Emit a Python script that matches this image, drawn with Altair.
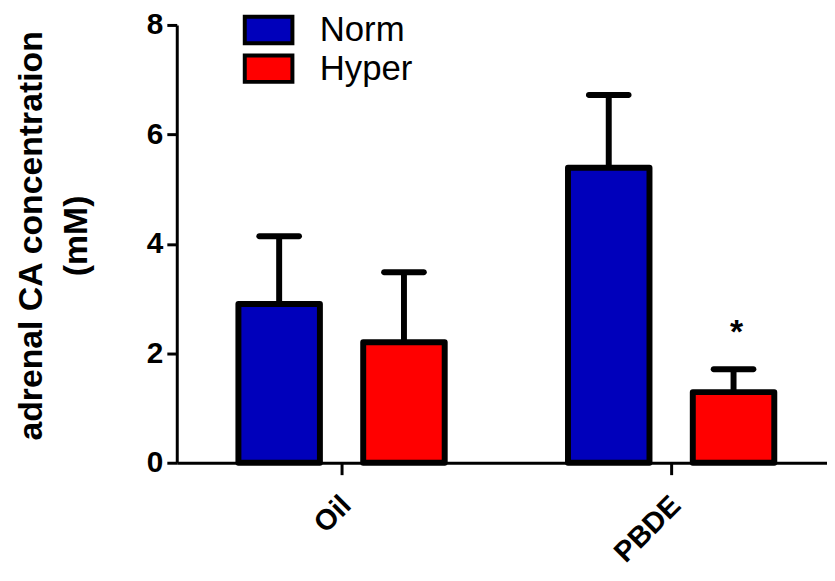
import altair as alt
import pandas as pd

groups = ["Oil", "Oil", "PBDE", "PBDE"]
conditions = ["Norm", "Hyper", "Norm", "Hyper"]
means = [2.90, 2.20, 5.39, 1.29]
upper = [4.14, 3.48, 6.72, 1.71]
sig = ["", "", "", "*"]

df = pd.DataFrame({"group": groups, "cond": conditions, "mean": means,
                   "upper": upper, "sig": sig})

FONT = "Liberation Sans"
cond_order = ["Norm", "Hyper"]

x_enc = alt.X("group:N", sort=["Oil", "PBDE"],
              scale=alt.Scale(paddingInner=0, paddingOuter=0, rangeMax=664),
              axis=alt.Axis(title=None, labelAngle=315))
xo_enc = alt.XOffset("cond:N", sort=cond_order,
                     scale=alt.Scale(domain=cond_order, paddingInner=0.347,
                                     paddingOuter=0.494))
y_axis = alt.Axis(values=[0, 2, 4, 6, 8], title=["adrenal CA concentration", "(mM)"])
y_scale = alt.Scale(domain=[0, 8], nice=False)

base = alt.Chart(df).encode(x=x_enc, xOffset=xo_enc)

bars = base.mark_bar(stroke="black", strokeWidth=6, strokeJoin="round").encode(
    y=alt.Y("mean:Q", scale=y_scale, axis=y_axis),
    color=alt.Color("cond:N", sort=cond_order,
                    scale=alt.Scale(domain=cond_order, range=["#0000BB", "#FF0000"]),
                    legend=alt.Legend(title=None, orient="none", legendX=75, legendY=-12.5,
                                      padding=0,
                                      symbolType="M-1.8,-1H1.8V1H-1.8Z", symbolSize=711,
                                      symbolStrokeColor="black", symbolStrokeWidth=4,
                                      symbolOpacity=1,
                                      labelFont=FONT, labelFontSize=35, labelColor="black",
                                      labelOffset=34, rowPadding=-7)),
)

rules = base.mark_rule(color="black", strokeWidth=6).encode(
    y=alt.Y("mean:Q", scale=y_scale, axis=y_axis),
    y2="upper:Q",
)

caps = base.mark_tick(color="black", size=46, thickness=6, cornerRadius=3, opacity=1).encode(
    y=alt.Y("upper:Q", scale=y_scale, axis=y_axis),
)

stars = base.mark_text(font=FONT, fontSize=34, fontWeight="bold", color="black",
                       baseline="alphabetic", dy=-26, dx=3).encode(
    y=alt.Y("upper:Q", scale=y_scale, axis=y_axis),
    text="sig:N",
)

chart = alt.layer(rules, caps, bars, stars).properties(
    width=655, height=441,
    padding={"left": 170, "top": 15, "right": 0, "bottom": 109},
    autosize=alt.AutoSizeParams(type="none"),
    view=alt.ViewBackground(stroke="transparent", strokeWidth=0, fill="white"),
).configure_view(
    stroke="transparent", strokeWidth=0, strokeOpacity=0, fill="white"
).configure(
    background="white"
).configure_axis(
    grid=False, gridOpacity=0, domainColor="black", domainWidth=3, tickColor="black",
    tickWidth=3, labelColor="black", labelFont=FONT, labelFontWeight="bold",
    titleColor="black", titleFont=FONT, titleFontWeight="bold",
).configure_axisX(
    labelFontSize=29, tickSize=12, labelPadding=16, labelOffset=-5,
).configure_axisY(
    labelFontSize=30, tickSize=10, labelPadding=4,
    titleFontSize=34, titleLineHeight=45, titleAngle=270,
    titleBaseline="alphabetic", titleX=-136, titleY=212, titleAlign="center",
)

chart.save("out.html", embed_options={"renderer": "svg", "actions": False})
